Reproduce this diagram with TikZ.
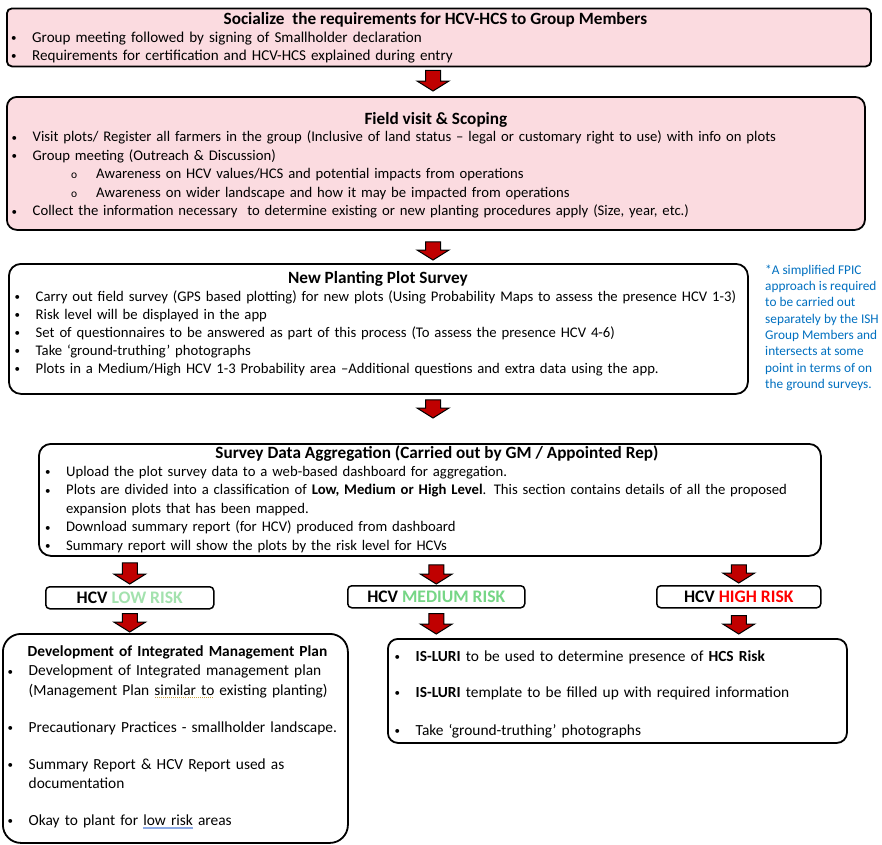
\documentclass[tikz,border=0pt]{standalone}
\usepackage{fontspec}
\setmainfont{Carlito}
\usetikzlibrary{positioning, calc}

\setlength{\parindent}{0pt}

\definecolor{pinkbg}{RGB}{251,219,224}
\definecolor{arrowred}{RGB}{192,0,0}
\definecolor{noteblue}{RGB}{0,112,192}
\definecolor{lowgreen}{RGB}{163,226,174}
\definecolor{medgreen}{RGB}{118,214,134}
\definecolor{highred}{RGB}{255,0,0}
\definecolor{spellgold}{RGB}{200,160,60}
\definecolor{grammarblue}{RGB}{140,170,230}

% bullets and hanging lines
\newcommand{\bul}{\strut\makebox[21pt][l]{\raisebox{0.8pt}{\fontsize{11}{11}\selectfont\textbullet}}}
\newcommand{\subbul}{\strut\hspace*{59.5pt}\makebox[25pt][l]{\fontsize{11.5}{11.5}\selectfont o}}
\newcommand{\hang}{\strut\hspace*{21pt}}
% proofing marks
\newsavebox{\markbox}
\newcommand{\spellmark}[1]{\sbox\markbox{#1}\rlap{\textcolor{spellgold}{\hbox to \wd\markbox{\xleaders\hbox{\rule[-3pt]{1pt}{1pt}\kern1pt}\hfill}}}#1}
\newcommand{\grammarmark}[1]{\sbox\markbox{#1}\rlap{\textcolor{grammarblue}{\rule[-3.5pt]{\wd\markbox}{1.6pt}}}#1}

\begin{document}
\begin{tikzpicture}[
    x=1pt, y=-1pt,
    panel/.style={draw=black, line width=1.8pt, rounded corners=#1, inner sep=0pt, anchor=north west},
    panel/.default=10pt,
    ttl/.style={font=\bfseries\fontsize{17.2}{17.2}\selectfont, inner sep=0pt, text height=12pt, text depth=3pt},
    lst/.style={font=\fontsize{14.7}{18}\selectfont, text width=780pt, align=left, inner sep=0pt, anchor=north west},
    lbl/.style={panel=4pt, line width=1.5pt, minimum height=22pt, font=\bfseries\fontsize{17.6}{17.6}\selectfont},
    note/.style={text=noteblue, font=\fontsize{13.3}{16.3}\selectfont, align=left, inner sep=0pt, anchor=north west},
    blk/.style={draw=black, line width=1pt, fill=arrowred,
        to path={let \p1=(\tikztostart), \p2=(\tikztotarget) in
            (\x1-7.5pt,\y1) -- (\x1+7.5pt,\y1) -- (\x1+7.5pt,\y2+10pt) -- (\x1+16pt,\y2+10pt)
            -- (\x1,\y2) -- (\x1-16pt,\y2+10pt) -- (\x1-7.5pt,\y2+10pt) -- cycle}}
]

    \fill[white] (0,0) rectangle (882,844);
    \useasboundingbox (0,0) rectangle (882,844);
    \coordinate (axis) at (433,0);

    % Socialize
    \node[panel=5pt, fill=pinkbg, minimum width=864pt, minimum height=58pt] (social) at (6,7.5) {};
    \node[ttl] (socialttl) at ([xshift=-3.5pt,yshift=-12pt]social.north) {Socialize\ \ the requirements for HCV-HCS to Group Members};
    \node[lst, font=\fontsize{15.1}{18}\selectfont] (sociallst) at (11,29.8) {\bul Group meeting followed by signing of Smallholder declaration\\
        \bul Requirements for certification and HCV-HCS explained during entry};

    % Field visit
    \node[panel, fill=pinkbg, minimum width=858pt, minimum height=133pt] (field) at (6,96) {};
    \node[ttl] (fieldttl) at ([yshift=-23.5pt]field.north) {Field visit \& Scoping};
    \node[lst, font=\fontsize{14.7}{18.5}\selectfont] (fieldlst) at (11.5,128.8) {\bul Visit plots/ Register all farmers in the group (Inclusive of land status – legal or customary right to use) with info on plots\\
        \bul Group meeting (Outreach \& Discussion)\\
        \subbul Awareness on HCV values/HCS and potential impacts from operations\\
        \subbul Awareness on wider landscape and how it may be impacted from operations\\
        \bul Collect the information necessary\ \ to determine existing or new planting procedures apply (Size, year, etc.)};

    % New planting survey
    \node[panel=12pt, minimum width=739pt, minimum height=130pt] (plot) at (8,263) {};
    \node[ttl] (plotttl) at ([xshift=-0.5pt,yshift=-15.5pt]plot.north) {New Planting Plot Survey};
    \node[lst] (plotlst) at (14.5,288.5) {\bul Carry out field survey (GPS based plotting) for new plots (Using Probability Maps to assess the presence HCV 1-3)\\
        \bul Risk level will be displayed in the app\\
        \bul Set of questionnaires to be answered as part of this process (To assess the presence HCV 4-6)\\
        \bul Take ‘ground-truthing’ photographs\\
        \bul Plots in a Medium/High HCV 1-3 Probability area –Additional questions and extra data using the app.};
    \node[note] (fpic) at (765,262.6) {\strut*A simplified FPIC\\ approach is required\\ to be carried out\\ separately by the ISH\\
        Group Members and\\ intersects at some\\ point in terms of on\\ the ground surveys.};

    % Aggregation
    \node[panel=12pt, minimum width=782pt, minimum height=112pt] (agg) at (38,443) {};
    \node[ttl] (aggttl) at ([xshift=7pt,yshift=-11pt]agg.north) {Survey Data Aggregation (Carried out by GM / Appointed Rep)};
    \node[lst, font=\fontsize{14.7}{18.5}\selectfont, text width=770pt] (agglst) at (45,463.3) {\bul Upload the plot survey data to a web-based dashboard for aggregation.\\
        \bul Plots are divided into a classification of \textbf{Low, Medium or High Level}. This section contains details of all the proposed\\
        \hang expansion plots that has been mapped.\\
        \bul Download summary report (for HCV) produced from dashboard\\
        \bul Summary report will show the plots by the risk level for HCVs};

    % Risk levels
    \node[lbl, minimum width=168pt] (low) at (45,586) {HCV \textcolor{lowgreen}{LOW RISK}};
    \node[lbl, minimum width=177pt] (med) at (347,585) {HCV \textcolor{medgreen}{MEDIUM RISK}};
    \node[lbl, minimum width=164pt] (high) at (656,585) {HCV \textcolor{highred}{HIGH RISK}};

    % Outcomes
    \node[panel=18pt, minimum width=345pt, minimum height=209pt] (imp) at (2,633) {};
    \node[lst, font=\fontsize{15.4}{19.1}\selectfont, text width=330pt] (implst) at (7.5,643.3) {\strut\hspace*{20pt}\textbf{Development of Integrated Management Plan}\\
        \bul Development of Integrated management plan\\
        \hang (Management Plan \spellmark{similar to} existing planting)\\[18pt]
        \bul Precautionary Practices - smallholder landscape.\\[18pt]
        \bul Summary Report \& HCV Report used as\\
        \hang documentation\\[18pt]
        \bul Okay to plant for \grammarmark{low risk} areas};

    \node[panel=10pt, minimum width=459pt, minimum height=104pt] (luri) at (387,638) {};
    \node[lst, font=\fontsize{15.4}{19}\selectfont, text width=440pt] (lurilst) at (394.5,648) {\bul \textbf{IS-LURI} to be used to determine presence of \textbf{HCS Risk}\\[17pt]
        \bul \textbf{IS-LURI} template to be filled up with required information\\[19pt]
        \bul Take ‘ground-truthing’ photographs};

    % Block arrows
    \draw[blk] ([yshift=-3pt]social.south -| axis) to ([yshift=5pt]field.north -| axis);
    \draw[blk] ([yshift=-11pt]field.south -| axis) to ([yshift=3pt]plot.north -| axis);
    \draw[blk] ([yshift=-5pt]plot.south -| axis) to ([yshift=25pt]agg.north -| axis);
    \draw[blk] ([yshift=-6pt]agg.south -| low) to ([yshift=2pt]low.north);
    \draw[blk] ([yshift=-8pt]agg.south -| med) to ([yshift=1pt]med.north);
    \draw[blk] ([yshift=-8pt]agg.south -| high) to ([yshift=2pt]high.north);
    \draw[blk] ([yshift=-4pt]low.south) to ([yshift=1pt]imp.north -| low);
    \draw[blk] ([yshift=-5pt]med.south) to ([yshift=4pt]luri.north -| med);
    \draw[blk] ([yshift=-7pt]high.south) to ([yshift=4pt]luri.north -| high);

\end{tikzpicture}
\end{document}
